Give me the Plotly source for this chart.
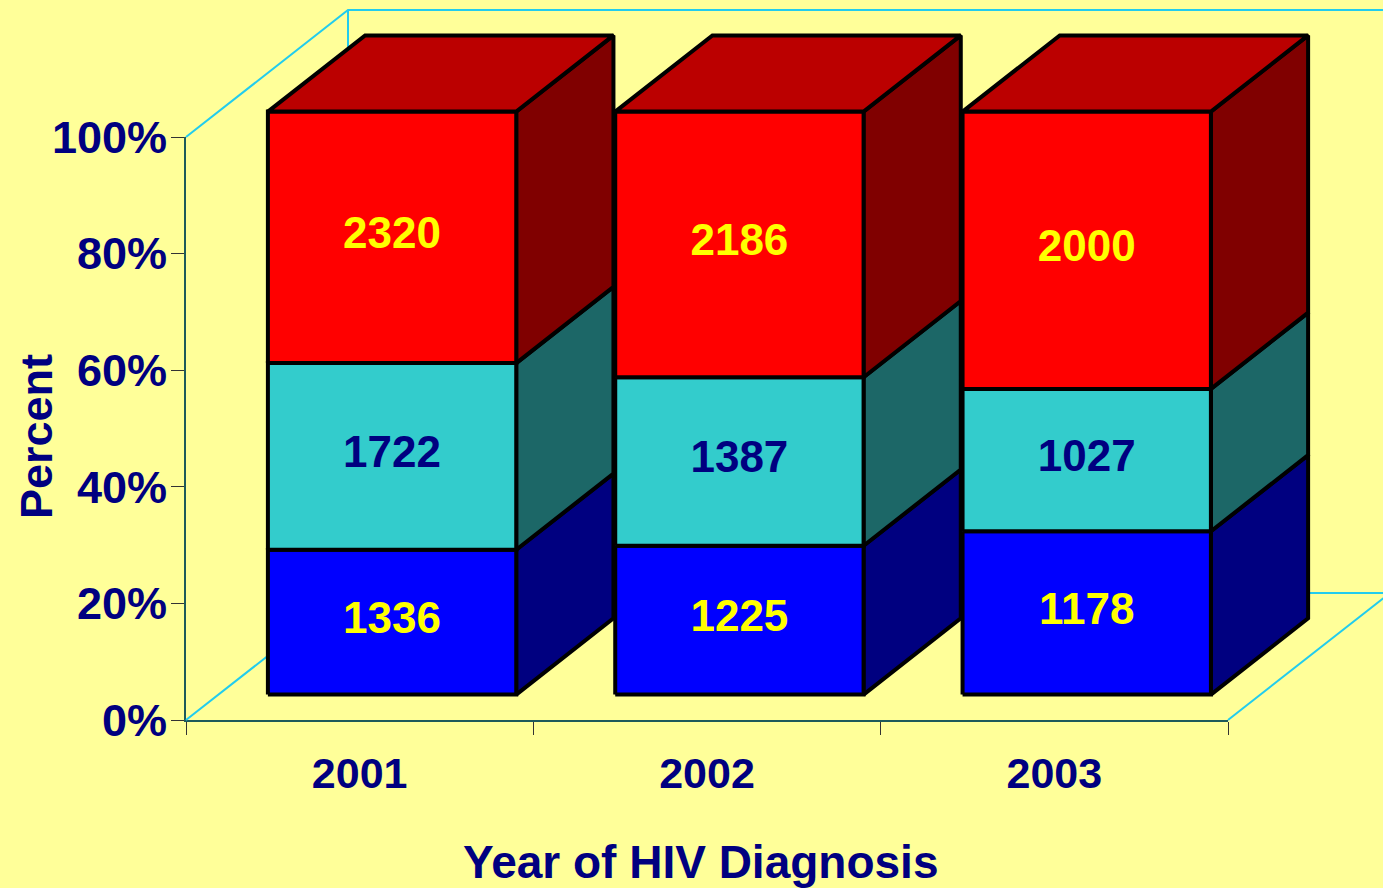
import plotly.graph_objects as go

# data (counts per year, stacked to 100%)
YEARS = ['2001', '2002', '2003']
COUNTS_BOTTOM = [1336, 1225, 1178]
COUNTS_MIDDLE = [1722, 1387, 1027]
COUNTS_TOP = [2320, 2186, 2000]
Y_TICKS = [0, 20, 40, 60, 80, 100]
Y_TICK_TEXT = ['0%', '20%', '40%', '60%', '80%', '100%']

# styling: (front, side, top, label colour) for each stack level
STYLES = [
    ('#0000FF', '#000080', '#0000CC', '#FFFF00'),
    ('#33CCCC', '#1C6767', '#29A3A3', '#000080'),
    ('#FF0000', '#800000', '#BB0000', '#FFFF00'),
]

BG = '#FFFF99'
NAVY = '#000080'
WALL = '#22CCEE'
FONT = 'Arial, Liberation Sans, sans-serif'

# page geometry (pixels) of the front floor edge and value axis
W, H = 1383, 888
AX_LEFT, AX_RIGHT = 186, 1228
AX_Y0, AX_Y100 = 720, 137
DEPTH_PX = (162, 127)
BAR_WIDTH = 0.715
BAR_FRONT, BAR_BACK = 0.2, 0.8

px_cat = (AX_RIGHT - AX_LEFT) / len(YEARS)
px_pct = (AX_Y0 - AX_Y100) / 100.0
DX = DEPTH_PX[0] / px_cat
DY = DEPTH_PX[1] / px_pct

x2_range = [-0.5 - AX_LEFT / px_cat, len(YEARS) - 0.5 + (W - AX_RIGHT) / px_cat]
y2_range = [-(H - AX_Y0) / px_pct, 100 + AX_Y100 / px_pct]


def add_poly(fig, pts, color):
    xs = [p[0] for p in pts] + [pts[0][0]]
    ys = [p[1] for p in pts] + [pts[0][1]]
    fig.add_trace(go.Scatter(x=xs, y=ys, mode='lines', fill='toself', fillcolor=color,
                             line=dict(color='black', width=4),
                             xaxis='x2', yaxis='y2', hoverinfo='skip', showlegend=False))


def add_wall_line(fig, pts):
    fig.add_trace(go.Scatter(x=[p[0] for p in pts], y=[p[1] for p in pts], mode='lines',
                             line=dict(color=WALL, width=2),
                             xaxis='x2', yaxis='y2', hoverinfo='skip', showlegend=False))


fig = go.Figure()

# dummy trace so the category axis / percent axis get drawn
fig.add_trace(go.Scatter(x=YEARS, y=[0, 0, 0], mode='none', hoverinfo='skip', showlegend=False))

# back wall and floor outline
left, right = -0.5, len(YEARS) - 0.5
add_wall_line(fig, [(left, 100), (left + DX, 100 + DY), (x2_range[1] + 1, 100 + DY)])
add_wall_line(fig, [(left + DX, 100 + DY), (left + DX, DY)])
add_wall_line(fig, [(left, 0), (left + DX, DY), (right + DX, DY), (right, 0)])

series = [COUNTS_BOTTOM, COUNTS_MIDDLE, COUNTS_TOP]
ddx = (BAR_BACK - BAR_FRONT) * DX
ddy = (BAR_BACK - BAR_FRONT) * DY
y_base = BAR_FRONT * DY

lab_x, lab_y, lab_t, lab_c = [], [], [], []
for i, year in enumerate(YEARS):
    total = sum(s[i] for s in series)
    xl = i - BAR_WIDTH / 2 + BAR_FRONT * DX
    xr = xl + BAR_WIDTH
    lo = 0.0
    for k, s in enumerate(series):
        hi = lo + s[i] / total * 100
        y0, y1 = y_base + lo, y_base + hi
        front, side, top, txt = STYLES[k]
        add_poly(fig, [(xr, y0), (xr + ddx, y0 + ddy), (xr + ddx, y1 + ddy), (xr, y1)], side)
        add_poly(fig, [(xl, y0), (xr, y0), (xr, y1), (xl, y1)], front)
        lab_x.append((xl + xr) / 2)
        lab_y.append((y0 + y1) / 2)
        lab_t.append(str(s[i]))
        lab_c.append(txt)
        lo = hi
    ytop = y_base + lo
    add_poly(fig, [(xl, ytop), (xl + ddx, ytop + ddy), (xr + ddx, ytop + ddy), (xr, ytop)],
             STYLES[-1][2])

fig.add_trace(go.Scatter(x=lab_x, y=lab_y, text=lab_t, mode='text',
                         textfont=dict(family=FONT, size=44, color=lab_c, weight='bold'),
                         xaxis='x2', yaxis='y2', hoverinfo='skip', showlegend=False))

fig.update_layout(
    width=W, height=H,
    margin=dict(l=0, r=0, t=0, b=0, autoexpand=False),
    showlegend=False,
    paper_bgcolor=BG, plot_bgcolor='rgba(0,0,0,0)',
    xaxis=dict(type='category', categoryarray=YEARS, range=[-0.5, len(YEARS) - 0.5],
               domain=[AX_LEFT / W, AX_RIGHT / W], anchor='y', automargin=False,
               showline=True, linecolor='#1E5A5A', linewidth=2,
               ticks='outside', tickson='boundaries', ticklen=13, tickcolor='#333333',
               showgrid=False, zeroline=False, ticklabelstandoff=14,
               tickfont=dict(family=FONT, size=43, color=NAVY, weight='bold')),
    yaxis=dict(range=[0, 100], domain=[(H - AX_Y0) / H, (H - AX_Y100) / H], anchor='x',
               automargin=False, tickvals=Y_TICKS, ticktext=Y_TICK_TEXT,
               showline=True, linecolor='#1E5A5A', linewidth=2,
               ticks='outside', ticklen=13, tickcolor='#333333',
               showgrid=False, zeroline=False, ticklabelstandoff=-5,
               tickfont=dict(family=FONT, size=45, color=NAVY, weight='bold')),
    xaxis2=dict(range=x2_range, domain=[0, 1], anchor='y2', visible=False, automargin=False),
    yaxis2=dict(range=y2_range, domain=[0, 1], anchor='x2', visible=False, automargin=False),
    annotations=[
        dict(text='Percent', textangle=-90, x=36 / W, y=(H - 437) / H,
             xref='paper', yref='paper', showarrow=False, xanchor='center', yanchor='middle',
             font=dict(family=FONT, size=45, color=NAVY, weight='bold')),
        dict(text='Year of HIV Diagnosis', x=700 / W, y=(H - 862) / H,
             xref='paper', yref='paper', showarrow=False, xanchor='center', yanchor='middle',
             font=dict(family=FONT, size=46, color=NAVY, weight='bold')),
    ],
)

fig.write_html("out.html", post_script="document.body.style.margin='0';",
               config={'displayModeBar': False})
